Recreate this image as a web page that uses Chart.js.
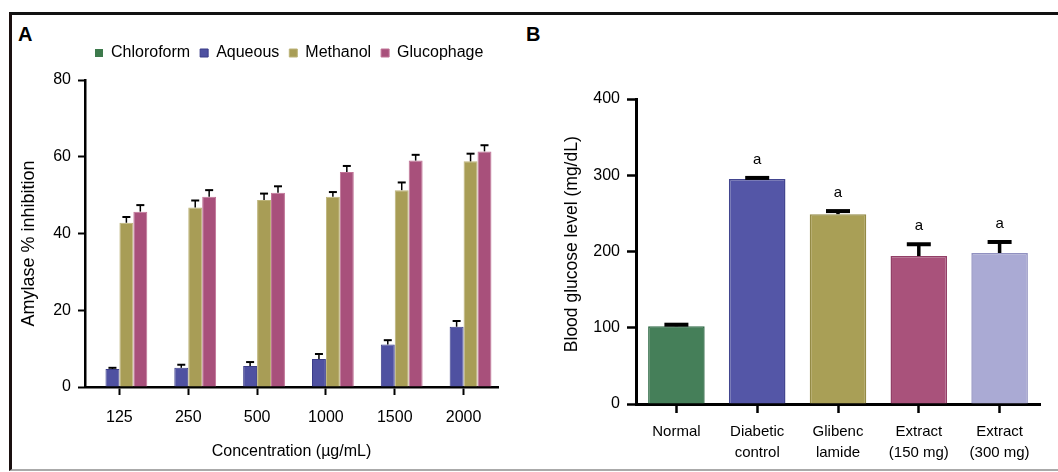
<!DOCTYPE html>
<html>
<head>
<meta charset="utf-8">
<script src="https://cdn.jsdelivr.net/npm/chart.js@4.4.0/dist/chart.umd.min.js"></script>
<style>
  body { margin: 0; background: #fff; width: 1058px; height: 472px; overflow: hidden; position: relative;
         font-family: "Liberation Sans", Arial, sans-serif; }
  .frame { position: absolute; left: 9px; top: 12px; right: 0; bottom: 1px;
           border-top: 3px solid #111; border-left: 3px solid #1a1010; border-bottom: 2px solid #aaa; }
  .panel { position: absolute; font-weight: bold; font-size: 20px; line-height: 20px; color: #000; }
  #chartA { position: absolute; left: 0; top: 0; }
  #chartB { position: absolute; left: 525px; top: 0; }
</style>
</head>
<body>
<div class="frame"></div>
<div class="panel" style="left:18px; top:24px;">A</div>
<div class="panel" style="left:526px; top:24px;">B</div>
<canvas id="chartA" width="525" height="472"></canvas>
<canvas id="chartB" width="533" height="472"></canvas>
<script>
// Panel A - amylase inhibition
const concentrations = ['125', '250', '500', '1000', '1500', '2000'];
const chloroform = [0, 0, 0, 0, 0, 0];
const aqueous = [4.7, 5.0, 5.5, 7.3, 11.1, 15.7];
const aqueousErr = [0.3, 0.8, 1.0, 1.3, 1.1, 1.5];
const methanol = [42.8, 46.8, 48.7, 49.6, 51.3, 58.8];
const methanolErr = [1.5, 1.8, 1.7, 1.2, 2.0, 2.0];
const glucophage = [45.7, 49.6, 50.6, 56.0, 59.0, 61.4];
const glucophageErr = [1.7, 1.7, 1.7, 1.6, 1.5, 1.6];
const amylaseTicks = [0, 20, 40, 60, 80];

// Panel B - blood glucose
const groups = [['Normal'], ['Diabetic', 'control'], ['Glibenc', 'lamide'], ['Extract', '(150 mg)'], ['Extract', '(300 mg)']];
const glucose = [102, 295, 249, 194, 198];
const glucoseErr = [2, 1.5, 4, 15.5, 14.5];
const glucoseMarks = ['', 'a', 'a', 'a', 'a'];
const glucoseTicks = [0, 100, 200, 300, 400];

Chart.defaults.font.family = '"Liberation Sans", Arial, sans-serif';
Chart.defaults.color = '#000';

// draws upward error bars from each dataset's "errors" array
const errorBars = {
    id: 'errorBars',
    afterDatasetsDraw(chart, args, opts) {
        const ctx = chart.ctx;
        const y = chart.scales.y;
        ctx.save();
        ctx.strokeStyle = '#000';
        chart.data.datasets.forEach((ds, i) => {
            if (!ds.errors) return;
            chart.getDatasetMeta(i).data.forEach((bar, j) => {
                const top = y.getPixelForValue(ds.data[j] + ds.errors[j]);
                ctx.lineWidth = opts.width;
                ctx.beginPath();
                ctx.moveTo(bar.x, bar.y);
                ctx.lineTo(bar.x, top);
                ctx.stroke();
                ctx.lineWidth = opts.capWidth;
                ctx.beginPath();
                ctx.moveTo(bar.x - opts.cap / 2, top);
                ctx.lineTo(bar.x + opts.cap / 2, top);
                ctx.stroke();
            });
        });
        ctx.restore();
    }
};

// significance letters above the error bars
const barMarks = {
    id: 'barMarks',
    afterDatasetsDraw(chart) {
        const ctx = chart.ctx;
        const y = chart.scales.y;
        ctx.save();
        ctx.font = '15px "Liberation Sans", Arial, sans-serif';
        ctx.fillStyle = '#000';
        ctx.textAlign = 'center';
        ctx.textBaseline = 'middle';
        chart.data.datasets.forEach((ds, i) => {
            if (!ds.marks) return;
            chart.getDatasetMeta(i).data.forEach((bar, j) => {
                if (!ds.marks[j]) return;
                const top = y.getPixelForValue(ds.data[j] + (ds.errors ? ds.errors[j] : 0));
                ctx.fillText(ds.marks[j], bar.x, top - 18);
            });
        });
        ctx.restore();
    }
};

// a bit more room under the legend
const legendGap = {
    id: 'legendGap',
    beforeInit(chart) {
        const fit = chart.legend.fit;
        chart.legend.fit = function () {
            fit.bind(chart.legend)();
            this.height += 9;
        };
    }
};

new Chart(document.getElementById('chartA'), {
    type: 'bar',
    data: {
        labels: concentrations,
        datasets: [
            { label: 'Chloroform', data: chloroform, backgroundColor: '#3d7a4c', borderColor: '#3d7a4c', borderWidth: 0 },
            { label: 'Aqueous', data: aqueous, errors: aqueousErr, backgroundColor: '#4f51a1', borderColor: '#3a3c88', borderWidth: 1 },
            { label: 'Methanol', data: methanol, errors: methanolErr, backgroundColor: '#a89d56', borderColor: '#bdb47a', borderWidth: 1 },
            { label: 'Glucophage', data: glucophage, errors: glucophageErr, backgroundColor: '#a8507b', borderColor: '#c07396', borderWidth: 1 }
        ]
    },
    options: {
        responsive: false,
        animation: false,
        layout: { padding: { top: 35, left: 0, right: 27, bottom: 8 } },
        datasets: { bar: { categoryPercentage: 0.81, barPercentage: 1 } },
        plugins: {
            tooltip: { enabled: false },
            legend: {
                position: 'top',
                fullSize: false,
                align: 'start',
                labels: { boxWidth: 8, boxHeight: 8, padding: 10, color: '#000', font: { size: 16 } }
            },
            errorBars: { width: 1.5, capWidth: 2, cap: 8 }
        },
        scales: {
            x: {
                afterFit: (scale) => { scale.height = 77; },
                grid: { offset: false, drawOnChartArea: false, drawTicks: true, tickLength: 8, tickWidth: 2, color: '#000', tickColor: '#000' },
                border: { display: true, color: '#000', width: 2.5 },
                ticks: { padding: 13, font: { size: 16 }, color: '#000' },
                title: { display: true, text: 'Concentration (µg/mL)', font: { size: 16 }, color: '#000', padding: { top: 0, bottom: 3 } }
            },
            y: {
                min: 0,
                max: 80,
                afterFit: (scale) => { scale.width = 85; },
                afterBuildTicks: (scale) => { scale.ticks = amylaseTicks.map(v => ({ value: v })); },
                grid: { drawOnChartArea: false, drawTicks: true, tickLength: 7, tickWidth: 2, color: '#000', tickColor: '#000' },
                border: { display: true, color: '#000', width: 2.5 },
                ticks: { padding: 7, font: { size: 16 }, color: '#000' },
                // trailing spaces nudge the title a little lower, as in the original
                title: { display: true, text: 'Amylase % inhibition    ', font: { size: 18 }, color: '#000', padding: { top: 18, bottom: 0 } }
            }
        }
    },
    plugins: [errorBars, legendGap]
});

new Chart(document.getElementById('chartB'), {
    type: 'bar',
    data: {
        labels: groups,
        datasets: [{
            label: 'Blood glucose',
            data: glucose,
            errors: glucoseErr,
            marks: glucoseMarks,
            backgroundColor: ['#457f59', '#5456a7', '#a99f56', '#a9527b', '#aaaad4'],
            borderColor: ['#2f6a45', '#42458f', '#948a45', '#923f67', '#9090c0'],
            borderWidth: 1.5
        }]
    },
    options: {
        responsive: false,
        animation: false,
        layout: { padding: { top: 99, left: 0, right: 18, bottom: 0 } },
        datasets: { bar: { categoryPercentage: 0.7, barPercentage: 1 } },
        plugins: {
            tooltip: { enabled: false },
            legend: { display: false },
            errorBars: { width: 3.5, capWidth: 4, cap: 24 }
        },
        scales: {
            x: {
                afterFit: (scale) => { scale.height = 68; },
                grid: { offset: false, drawOnChartArea: false, drawTicks: true, tickLength: 9, tickWidth: 2.5, color: '#000', tickColor: '#000' },
                border: { display: true, color: '#000', width: 3 },
                ticks: { padding: 8, font: { size: 15, lineHeight: 1.4 }, color: '#000', maxRotation: 0, autoSkip: false }
            },
            y: {
                min: 0,
                max: 400,
                afterFit: (scale) => { scale.width = 111; },
                afterBuildTicks: (scale) => { scale.ticks = glucoseTicks.map(v => ({ value: v })); },
                grid: { drawOnChartArea: false, drawTicks: true, tickLength: 9, tickWidth: 2.5, color: '#000', tickColor: '#000' },
                border: { display: true, color: '#000', width: 3 },
                ticks: { padding: 7, font: { size: 16 }, color: '#000' },
                // leading spaces lift the title slightly, as in the original
                title: { display: true, text: '   Blood glucose level (mg/dL)', font: { size: 17.5 }, color: '#000', padding: { top: 37, bottom: 0 } }
            }
        }
    },
    plugins: [errorBars, barMarks]
});
</script>
</body>
</html>
